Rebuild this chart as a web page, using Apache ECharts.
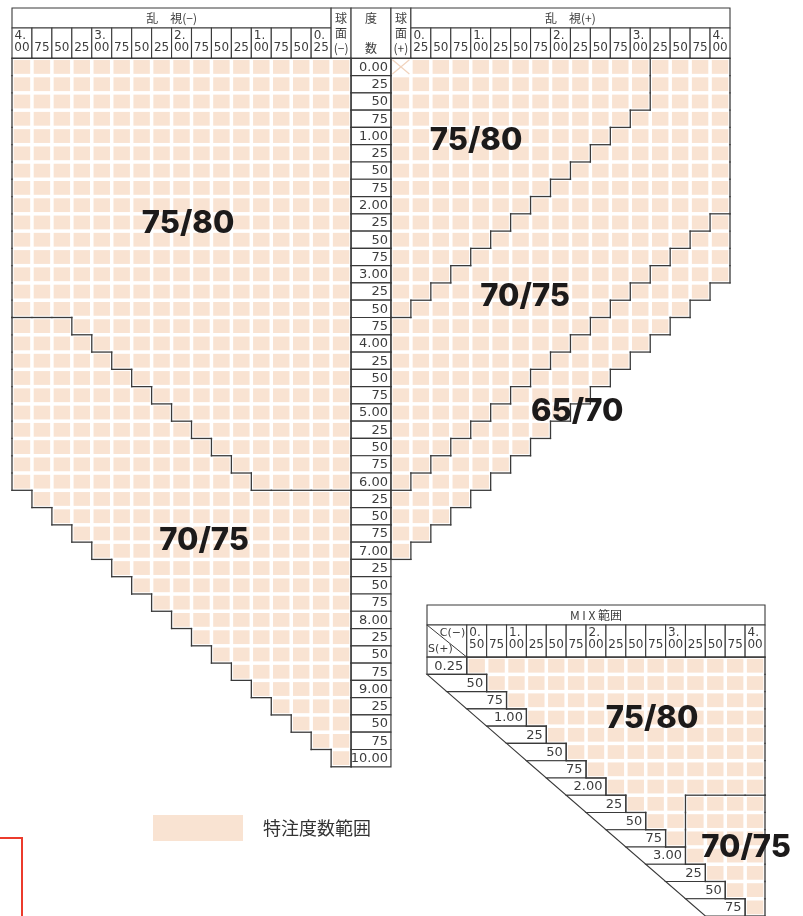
<!DOCTYPE html>
<html><head><meta charset="utf-8">
<script src="https://cdn.jsdelivr.net/npm/echarts@6/dist/echarts.min.js"></script>
<style>html,body{margin:0;padding:0;background:#fff}#c{width:803px;height:916px}</style>
</head><body><div id="c"></div>
<script>
// ===================== DATA =====================
// Sphere power rows (度数), shown labels and their values
const sphRows = ['0.00','25','50','75','1.00','25','50','75','2.00','25','50','75','3.00','25','50','75',
  '4.00','25','50','75','5.00','25','50','75','6.00','25','50','75','7.00','25','50','75',
  '8.00','25','50','75','9.00','25','50','75','10.00'];
const sphValues = [0,0.25,0.5,0.75,1,1.25,1.5,1.75,2,2.25,2.5,2.75,3,3.25,3.5,3.75,4,4.25,4.5,4.75,
  5,5.25,5.5,5.75,6,6.25,6.5,6.75,7,7.25,7.5,7.75,8,8.25,8.5,8.75,9,9.25,9.5,9.75,10];

// Cylinder (乱視) tick labels
const cylMinusTicks = ['4.\n00','75','50','25','3.\n00','75','50','25','2.\n00','75','50','25','1.\n00','75','50','0.\n25'];
const cylPlusTicks  = ['0.\n25','50','75','1.\n00','25','50','75','2.\n00','25','50','75','3.\n00','25','50','75','4.\n00'];

// Left block: columns C(−) 4.00 … 0.25, then 球面(−) (C = 0)
const leftCyl      = [4.00,3.75,3.50,3.25,3.00,2.75,2.50,2.25,2.00,1.75,1.50,1.25,1.00,0.75,0.50,0.25,0];
const left7580MaxS = [3.50,3.50,3.50,3.75,4.00,4.25,4.50,4.75,5.00,5.25,5.50,5.75,6.00,6.00,6.00,6.00,6.00];
const leftMaxS     = [6.00,6.25,6.50,6.75,7.00,7.25,7.50,7.75,8.00,8.25,8.50,8.75,9.00,9.25,9.50,9.75,10.00];

// Right block: columns 球面(+) (C = 0), then C(+) 0.25 … 4.00
const rightCyl      = [0,0.25,0.50,0.75,1.00,1.25,1.50,1.75,2.00,2.25,2.50,2.75,3.00,3.25,3.50,3.75,4.00];
const right7580MaxS = [3.50,3.25,3.00,2.75,2.50,2.25,2.00,1.75,1.50,1.25,1.00,0.75,0.50,null,null,null,null];
const right7075MaxS = [6.00,5.75,5.50,5.25,5.00,4.75,4.50,4.25,4.00,3.75,3.50,3.25,3.00,2.75,2.50,2.25,2.00];
const rightMaxS     = [7.00,6.75,6.50,6.25,6.00,5.75,5.50,5.25,5.00,4.75,4.50,4.25,4.00,3.75,3.50,3.25,3.00];
const rightExcluded = [[0, 0.00]];   // [C, S] cell marked ×

// MIX range: C(−) columns, S(+) rows
const mixColTicks = ['0.\n50','75','1.\n00','25','50','75','2.\n00','25','50','75','3.\n00','25','50','75','4.\n00'];
const mixCyl      = [0.50,0.75,1.00,1.25,1.50,1.75,2.00,2.25,2.50,2.75,3.00,3.25,3.50,3.75,4.00];
const mixRowTicks = ['0.25','50','75','1.00','25','50','75','2.00','25','50','75','3.00','25','50','75'];
const mixSph      = [0.25,0.50,0.75,1.00,1.25,1.50,1.75,2.00,2.25,2.50,2.75,3.00,3.25,3.50,3.75];
const mixFirstC   = [0.50,0.75,1.00,1.25,1.50,1.75,2.00,2.25,2.50,2.75,3.00,3.25,3.50,3.75,4.00];
const mix7075FromC= [null,null,null,null,null,null,null,null,3.25,3.25,3.25,3.25,3.50,3.75,4.00];

const zoneNames = ['75/80','70/75','65/70'];
const legendName = '特注度数範囲';

// ===================== LAYOUT / STYLE =====================
const PEACH = '#f9e3d2';
const LINE = '#3a3a3a';
const TXT = '#3c3c3c';
const NUMFONT = 'DejaVu Sans';
const JPFONT = 'Noto Sans CJK JP';
const ROW = 17.28;
const TOP = {left:12, top:8, width:718, head:50.3, headRow1:20, cols:36, rows:41};
const MIX = {left:427, top:605, width:338, head:52.2, headRow1:20, cols:17, rows:15};
const tH0 = -TOP.head/ROW, tH1 = tH0 + TOP.headRow1/ROW;
const mH0 = -MIX.head/ROW, mH1 = mH0 + MIX.headRow1/ROW;
// zone-label anchors (axis units)
const topZoneLabelPos = [
  {z:0, x:8.83, y:9.55}, {z:1, x:9.63, y:27.9},
  {z:0, x:23.27, y:4.75}, {z:1, x:25.73, y:13.78}, {z:2, x:28.34, y:20.44}
];
const mixZoneLabelPos = [{z:0, x:11.32, y:3.55}, {z:1, x:16.05, y:11.07}];

// ===================== BUILD =====================
const sIdx = s => sphValues.findIndex(v => Math.abs(v - s) < 1e-6);

const topCells = [];
leftCyl.forEach((c, k) => {
  const a = sIdx(left7580MaxS[k]), m = sIdx(leftMaxS[k]);
  for (let r = 0; r <= m; r++) topCells.push({x:k, y:r, zone: r <= a ? 0 : 1});
});
rightCyl.forEach((c, k) => {
  const a = right7580MaxS[k] == null ? -1 : sIdx(right7580MaxS[k]);
  const b = sIdx(right7075MaxS[k]), m = sIdx(rightMaxS[k]);
  for (let r = 0; r <= m; r++) {
    const ex = rightExcluded.some(e => Math.abs(e[0]-c) < 1e-6 && sIdx(e[1]) === r);
    topCells.push({x:19+k, y:r, zone: r <= a ? 0 : (r <= b ? 1 : 2), excluded: ex});
  }
});
const mixCells = [];
mixSph.forEach((s, i) => {
  const j0 = mixCyl.findIndex(v => Math.abs(v - mixFirstC[i]) < 1e-6);
  const jb = mix7075FromC[i] == null ? 999 : mixCyl.findIndex(v => Math.abs(v - mix7075FromC[i]) < 1e-6);
  for (let j = j0; j < mixCyl.length; j++) mixCells.push({x:2+j, y:i, zone: j >= jb ? 1 : 0});
});

function boundaries(cells) {
  const map = new Map();
  cells.forEach(c => map.set(c.x + ',' + c.y, c.zone));
  const segs = [], seen = new Set();
  const add = (x1,y1,x2,y2) => { const k=[x1,y1,x2,y2].join(','); if(!seen.has(k)){seen.add(k); segs.push([x1,y1,x2,y2]);} };
  cells.forEach(c => {
    const z = c.zone, g = (dx,dy) => map.get((c.x+dx)+','+(c.y+dy));
    if (g(-1,0) !== z) add(c.x, c.y, c.x, c.y+1);
    if (g(1,0) !== z) add(c.x+1, c.y, c.x+1, c.y+1);
    if (g(0,-1) !== z) add(c.x, c.y, c.x+1, c.y);
    if (g(0,1) !== z) add(c.x, c.y+1, c.x+1, c.y+1);
  });
  return segs;
}
const topSegs = boundaries(topCells);
const mixSegs = boundaries(mixCells);

// Header definitions
const topHeader = [];
topHeader.push({x0:0, x1:16, y0:tH0, y1:tH1, kind:'title', text:'乱　視(−)'});
cylMinusTicks.forEach((t,k) => topHeader.push({x0:k, x1:k+1, y0:tH1, y1:0, kind:'tick', text:t}));
topHeader.push({x0:16, x1:17, y0:tH0, y1:0, kind:'stack', text:'球\n面\n(−)'});
topHeader.push({x0:17, x1:19, y0:tH0, y1:0, kind:'stack', text:'度\n\n数'});
topHeader.push({x0:19, x1:20, y0:tH0, y1:0, kind:'stack', text:'球\n面\n(+)'});
topHeader.push({x0:20, x1:36, y0:tH0, y1:tH1, kind:'title', text:'乱　視(+)'});
cylPlusTicks.forEach((t,k) => topHeader.push({x0:20+k, x1:21+k, y0:tH1, y1:0, kind:'tick', text:t}));

const mixHeader = [];
mixHeader.push({x0:0, x1:17, y0:mH0, y1:mH1, kind:'title', text:'M I X 範囲'});
mixHeader.push({x0:0, x1:2, y0:mH1, y1:0, kind:'corner', text:'C(−)', text2:'S(+)'});
mixColTicks.forEach((t,j) => mixHeader.push({x0:2+j, x1:3+j, y0:mH1, y1:0, kind:'tick', text:t}));

// ===================== RENDER =====================
function rectOf(api, x0, y0, x1, y1) {
  const a = api.coord([x0, y0]), b = api.coord([x1, y1]);
  return {x:a[0], y:a[1], width:b[0]-a[0], height:b[1]-a[1]};
}
function txt(x, y, text, size, family, align, extra) {
  return {type:'text', x, y, z2:10, style:Object.assign({text, fill:TXT, fontSize:size, fontFamily:family,
    align:align||'center', verticalAlign:'middle'}, extra||{})};
}
function cellRender(list) {
  return function(params, api) {
    const c = list[params.dataIndex];
    if (c.excluded) return null;
    const r = rectOf(api, c.x, c.y, c.x+1, c.y+1), ins = 1.75;
    return {type:'rect', shape:{x:r.x+ins, y:r.y+ins, width:r.width-2*ins, height:r.height-2*ins},
      style:{fill: api.visual('color')}};
  };
}
function segRender(list) {
  return function(params, api) {
    const s = list[params.dataIndex];
    const a = api.coord([s[0], s[1]]), b = api.coord([s[2], s[3]]);
    return {type:'line', shape:{x1:a[0], y1:a[1], x2:b[0], y2:b[1]},
      style:{stroke:LINE, lineWidth:1.3, lineCap:'square'}};
  };
}
function headerRender(list) {
  return function(params, api) {
    const h = list[params.dataIndex];
    const r = rectOf(api, h.x0, h.y0, h.x1, h.y1);
    const ch = [{type:'rect', shape:r, style:{fill:'#fff', stroke:LINE, lineWidth:1.1}}];
    const cx = r.x + r.width/2, cy = r.y + r.height/2;
    if (h.kind === 'title') ch.push(txt(cx, cy+0.5, h.text, 12, JPFONT));
    else if (h.kind === 'stack') ch.push(txt(cx, cy+0.5, h.text, 12, JPFONT, 'center', {lineHeight:15}));
    else if (h.kind === 'tick') {
      const p = h.text.split('\n');
      if (p.length === 2) {
        ch.push(txt(r.x+2.5, r.y+8, p[0], 12, NUMFONT, 'left'));
        ch.push(txt(cx, r.y+19.5, p[1], 12, NUMFONT));
      } else ch.push(txt(cx, r.y+19.5, p[0], 12, NUMFONT));
    } else if (h.kind === 'corner') {
      ch.push({type:'line', shape:{x1:r.x, y1:r.y, x2:r.x+r.width, y2:r.y+r.height}, style:{stroke:LINE, lineWidth:1}});
      ch.push(txt(r.x+r.width-1.5, r.y+8.5, h.text, 11, NUMFONT, 'right'));
      ch.push(txt(r.x+1, r.y+r.height-7.5, h.text2, 11, NUMFONT, 'left'));
    }
    return {type:'group', children:ch};
  };
}
const sphBoxRender = function(params, api) {
  const r = rectOf(api, 17, params.dataIndex, 19, params.dataIndex+1);
  return {type:'group', children:[
    {type:'rect', shape:r, style:{fill:'#fff', stroke:LINE, lineWidth:1.2}},
    txt(r.x+r.width-3, r.y+r.height/2+0.5, sphRows[params.dataIndex], 13, NUMFONT, 'right')
  ]};
};
const mixRowRender = function(params, api) {
  const i = params.dataIndex;
  const j0 = mixCyl.findIndex(v => Math.abs(v - mixFirstC[i]) < 1e-6);
  const xr = 2 + j0;
  const pts = (i === 0 ? [[0,0],[xr,0],[xr,1],[0,1]] : [[xr-3,i],[xr,i],[xr,i+1],[xr-2,i+1]]).map(p => api.coord(p));
  const rr = api.coord([xr, i+0.5]);
  return {type:'group', children:[
    {type:'polygon', shape:{points:pts}, style:{fill:'#fff', stroke:LINE, lineWidth:1.1}},
    txt(rr[0]-3.5, rr[1]+0.5, mixRowTicks[i], 13, NUMFONT, 'right')
  ]};
};
function zoneLabelRender(list) {
  return function(params, api) {
    const l = list[params.dataIndex];
    const p = api.coord([l.x, l.y]);
    return {type:'text', x:p[0], y:p[1], style:{text:zoneNames[l.z], fill:'#1c1a1a', fontSize:31, fontWeight:800,
      fontFamily:'Inter, Liberation Sans, sans-serif', align:'center', verticalAlign:'middle'}};
  };
}
const xRender = function(params, api) {
  const e = rightExcluded[params.dataIndex];
  const k = rightCyl.findIndex(v => Math.abs(v - e[0]) < 1e-6);
  const r = rectOf(api, 19+k, sIdx(e[1]), 20+k, sIdx(e[1])+1), ins = 1.5;
  const st = {stroke:'#f1d3bd', lineWidth:1.2};
  return {type:'group', children:[
    {type:'line', shape:{x1:r.x+ins, y1:r.y+ins, x2:r.x+r.width-ins, y2:r.y+r.height-ins}, style:st},
    {type:'line', shape:{x1:r.x+r.width-ins, y1:r.y+ins, x2:r.x+ins, y2:r.y+r.height-ins}, style:st}
  ]};
};

const series = [
  {type:'custom', name:legendName, xAxisIndex:0, yAxisIndex:0, z:1, itemStyle:{color:PEACH},
   data: topCells.map(c => [c.x+0.5, c.y+0.5]), renderItem: cellRender(topCells)},
  {type:'custom', name:legendName, xAxisIndex:1, yAxisIndex:1, z:1, itemStyle:{color:PEACH},
   data: mixCells.map(c => [c.x+0.5, c.y+0.5]), renderItem: cellRender(mixCells)},
  {type:'custom', xAxisIndex:0, yAxisIndex:0, z:2, data: rightExcluded.map(() => [19.5, 0.5]), renderItem: xRender},
  {type:'custom', xAxisIndex:0, yAxisIndex:0, z:3, data: topHeader.map(h => [h.x0, h.y0]), renderItem: headerRender(topHeader)},
  {type:'custom', xAxisIndex:0, yAxisIndex:0, z:3, data: sphRows.map((s,i) => [18, i+0.5]), renderItem: sphBoxRender},
  {type:'custom', xAxisIndex:0, yAxisIndex:0, z:4, data: topSegs, renderItem: segRender(topSegs)},
  {type:'custom', xAxisIndex:1, yAxisIndex:1, z:3, data: mixHeader.map(h => [h.x0, h.y0]), renderItem: headerRender(mixHeader)},
  {type:'custom', xAxisIndex:1, yAxisIndex:1, z:3, data: mixRowTicks.map((t,i) => [1, i+0.5]), renderItem: mixRowRender},
  {type:'custom', xAxisIndex:1, yAxisIndex:1, z:4, data: mixSegs, renderItem: segRender(mixSegs)},
  {type:'custom', xAxisIndex:0, yAxisIndex:0, z:6, data: topZoneLabelPos.map(l => [l.x, l.y]), renderItem: zoneLabelRender(topZoneLabelPos)},
  {type:'custom', xAxisIndex:1, yAxisIndex:1, z:6, data: mixZoneLabelPos.map(l => [l.x, l.y]), renderItem: zoneLabelRender(mixZoneLabelPos)}
];
series.forEach(s => { s.clip = false; s.silent = true; s.animation = false; });

const option = {
  animation: false,
  backgroundColor: '#fff',
  grid: [
    {left:TOP.left, top:TOP.top, width:TOP.width, height:TOP.head + TOP.rows*ROW},
    {left:MIX.left, top:MIX.top, width:MIX.width, height:MIX.head + MIX.rows*ROW}
  ],
  xAxis: [
    {type:'value', gridIndex:0, min:0, max:TOP.cols, show:false},
    {type:'value', gridIndex:1, min:0, max:MIX.cols, show:false}
  ],
  yAxis: [
    {type:'value', gridIndex:0, min:tH0, max:TOP.rows, inverse:true, show:false},
    {type:'value', gridIndex:1, min:mH0, max:MIX.rows, inverse:true, show:false}
  ],
  legend: {
    data:[{name:legendName, icon:'rect'}], left:153, top:815, padding:0, itemWidth:90, itemHeight:26,
    selectedMode:false, itemStyle:{borderWidth:0},
    textStyle:{fontSize:18, color:'#333', fontFamily:JPFONT, padding:[0,0,0,15]}
  },
  graphic: [
    {type:'polyline', shape:{points:[[0,838],[22,838],[22,916]]}, style:{stroke:'#ec3b2c', lineWidth:2, fill:null}}
  ],
  series
};
const chart = echarts.init(document.getElementById('c'), null, {renderer:'canvas', width:803, height:916});
chart.setOption(option);
</script>
</body></html>
